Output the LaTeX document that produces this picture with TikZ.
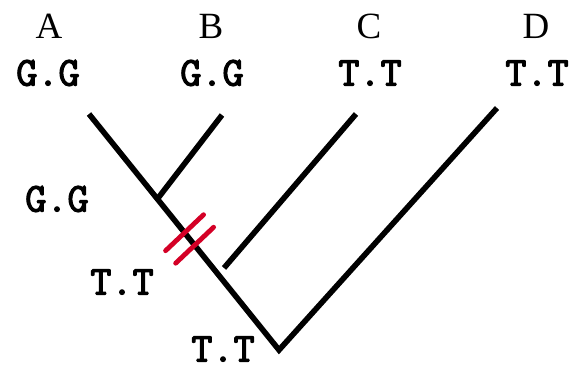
\documentclass[tikz,border=0pt]{standalone}
\usepackage{fontspec}
\setmainfont{Liberation Serif}
\newfontfamily\seqfont[FakeBold=3]{Latin Modern Mono}
\usetikzlibrary{calc}

\begin{document}
\begin{tikzpicture}[
  x=0.5pt, y=-0.5pt,
  taxon/.style={font=\fontsize{18.5}{20}\selectfont, inner sep=0pt},
  seq/.style={font=\seqfont\fontsize{20.5}{22}\selectfont, inner sep=0pt},
  branch/.style={line width=2.8pt, black, line join=miter},
  change/.style={line width=2.4pt, red!80!black!85!magenta, line cap=round},
]
\useasboundingbox (0,0) rectangle (572,369);

% ---- tips, joins and root ----
\coordinate (root) at (279,350);
\coordinate (tA) at (89,114);
\coordinate (tB) at (222,115);
\coordinate (tC) at (356,114);
\coordinate (tD) at (497,108);
\coordinate (jB) at ($(tA)!0.36!(root)$);
\coordinate (jC) at (224,268);

% ---- taxon names and states at the tips ----
\node[taxon] (nA) at (49,26) {A};
\node[taxon] (nB) at (211,26) {B};
\node[taxon] (nC) at (369,26) {C};
\node[taxon] (nD) at (536,26) {D};
\node[seq] (sA) at (48,73) {G.G};
\node[seq] (sB) at (212,73) {G.G};
\node[seq] (sC) at (370,73) {T.T};
\node[seq] (sD) at (537,73) {T.T};

% ---- states at the inner nodes ----
\node[seq] (sAB) at (57,199) {G.G};
\node[seq] (sABC) at (122,282) {T.T};
\node[seq] (sroot) at (223,349) {T.T};

% ---- branches ----
\draw[branch] (tA) -- (root) -- (tD);
\draw[branch] (tB) -- (jB);
\draw[branch] (tC) -- (jC);

% ---- the change G.G -> T.T ----
\draw[change] ($(tA)!0.503!(root)$) ++(-19,18) -- ++(38,-36);
\draw[change] ($(tA)!0.556!(root)$) ++(-19,18) -- ++(38,-36);

\end{tikzpicture}
\end{document}
